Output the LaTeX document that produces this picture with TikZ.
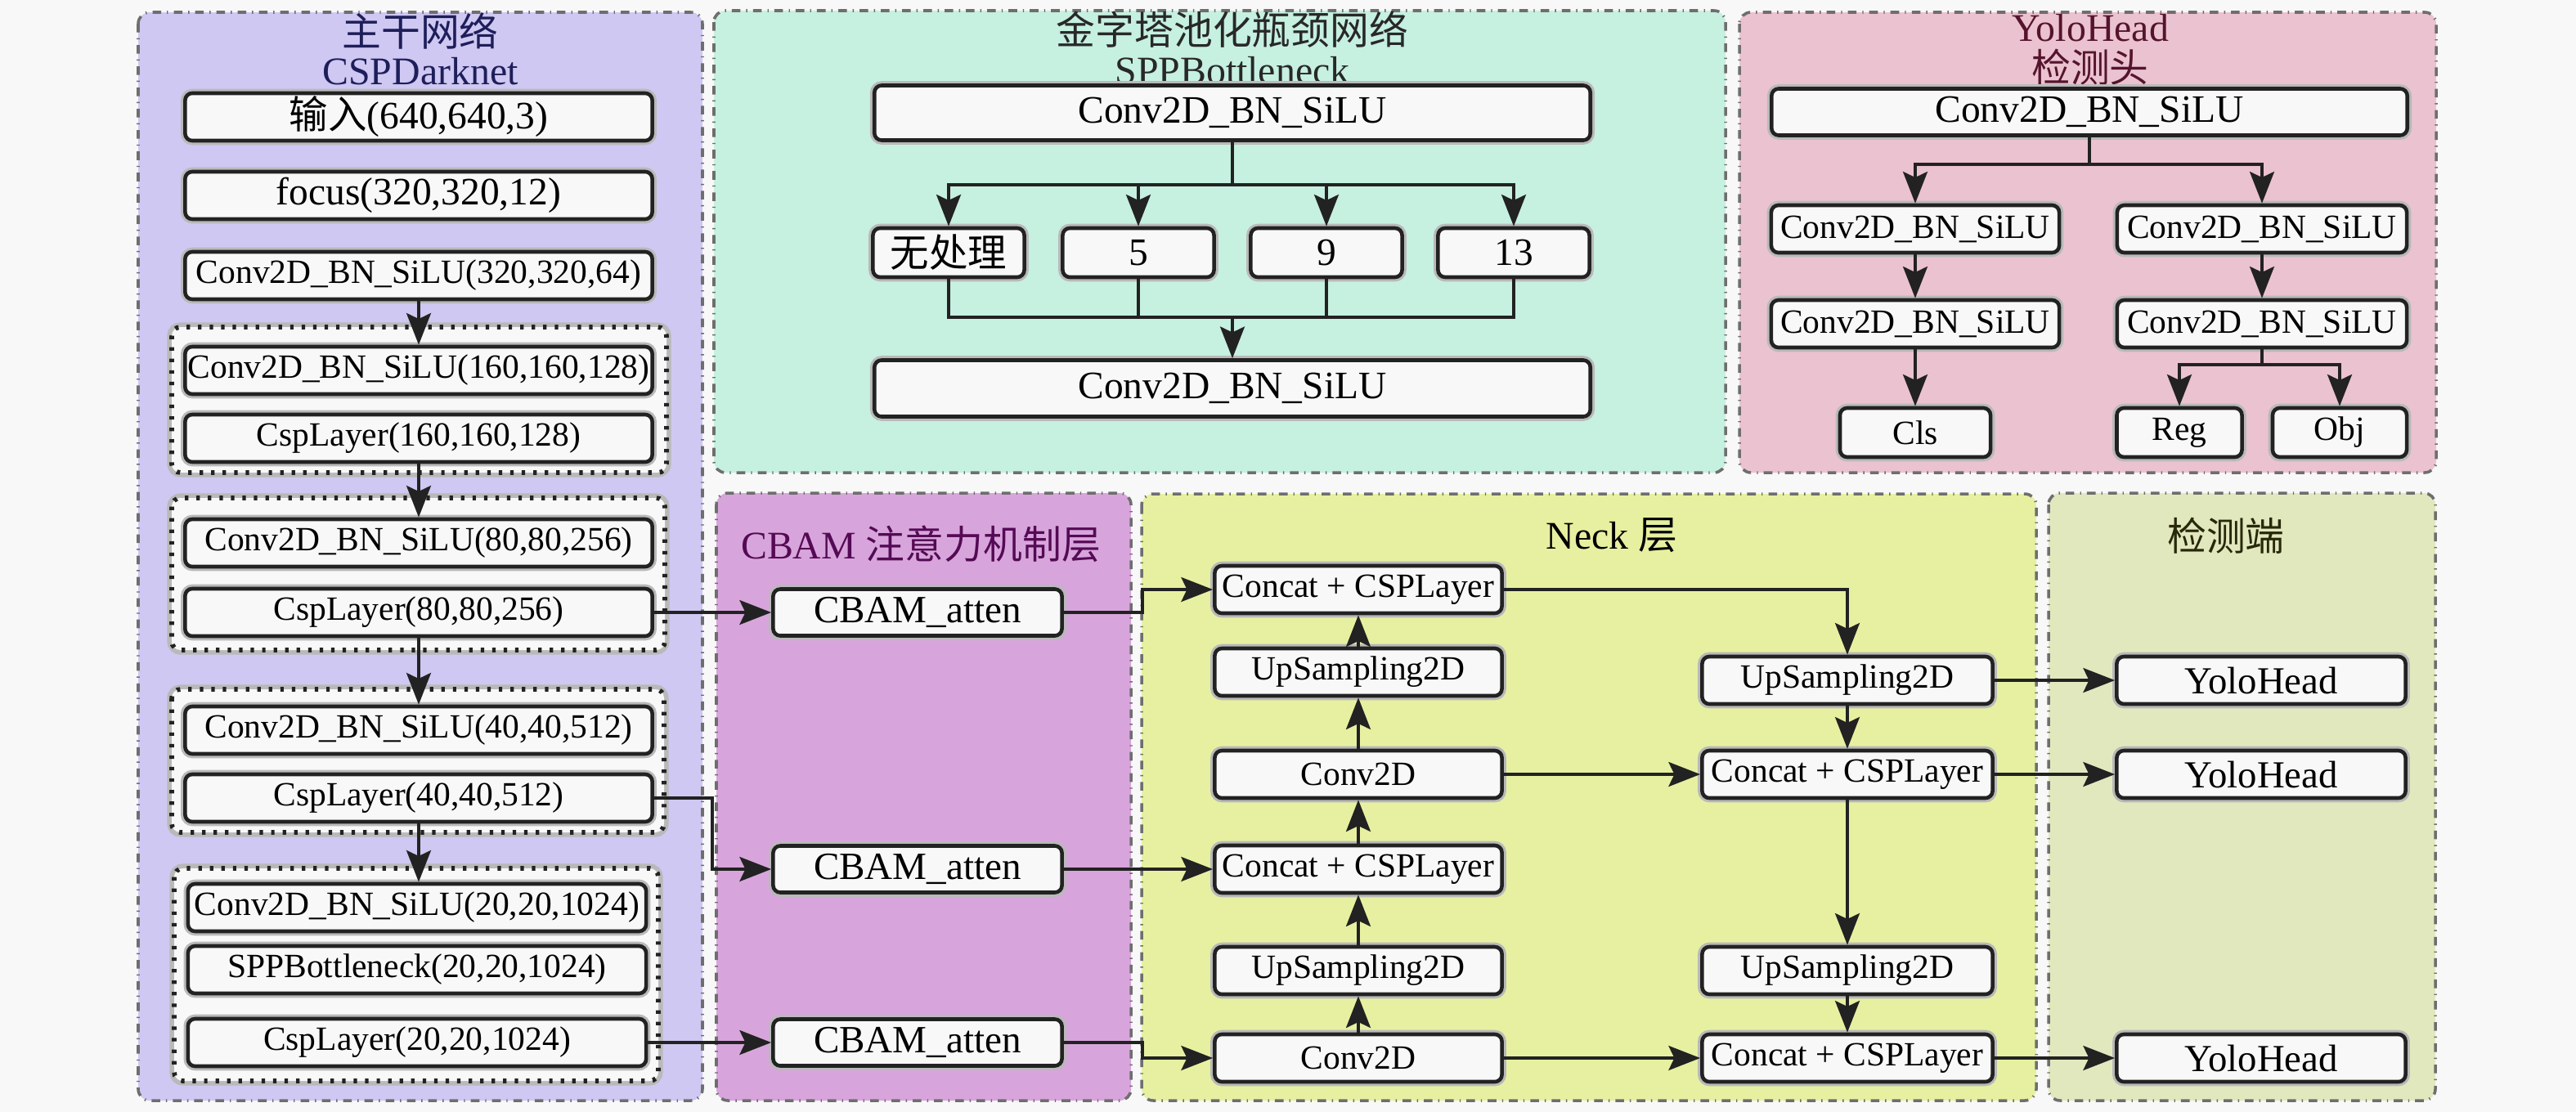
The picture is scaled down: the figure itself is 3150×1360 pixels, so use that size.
\documentclass[tikz,border=0pt]{standalone}
\usepackage{fontspec}
\setmainfont{Liberation Serif}
\newfontfamily\cjk{Noto Sans CJK SC}
\usetikzlibrary{arrows.meta}
\definecolor{bgc}{RGB}{248,248,248}
\definecolor{bbfill}{RGB}{206,200,242}
\definecolor{sppfill}{RGB}{198,240,224}
\definecolor{yhfill}{RGB}{235,194,207}
\definecolor{cbamfill}{RGB}{215,165,219}
\definecolor{neckfill}{RGB}{231,240,160}
\definecolor{detfill}{RGB}{226,232,190}
\definecolor{boxfill}{RGB}{248,248,248}
\definecolor{boxline}{RGB}{34,34,34}
\definecolor{halo}{RGB}{185,185,185}
\definecolor{panelline}{RGB}{110,110,110}
\definecolor{bbtitle}{RGB}{30,30,90}
\definecolor{spptitle}{RGB}{40,40,40}
\definecolor{yhtitle}{RGB}{85,20,45}
\definecolor{cbamtitle}{RGB}{85,10,85}
\definecolor{dettitle}{RGB}{40,40,10}
\tikzset{
  panel/.style={draw=panelline, dash dot, line width=1pt, rounded corners=4pt},
  grp/.style={draw=boxline, fill=boxfill, line width=1.6pt, dash pattern=on 1.2pt off 2.8pt, rounded corners=3pt,
    preaction={draw=halo, solid, line width=3.2pt}},
  box/.style={draw=boxline, fill=boxfill, line width=1.3pt, rounded corners=2.5pt, inner sep=0pt, minimum height=0.58cm,
    font=\fontsize{11.8}{12}\selectfont, preaction={draw=halo, line width=3pt}},
  bigbox/.style={box, font=\fontsize{13.5}{14}\selectfont},
  ttl/.style={inner sep=0pt, font=\fontsize{13.6}{15}\selectfont},
  conn/.style={draw=boxline, line width=1.1pt},
  arr/.style={conn, -{Stealth[length=11pt,width=8.5pt,inset=2pt]}}
}
\begin{document}
\begin{tikzpicture}[x=0.01cm,y=-0.01cm]
\useasboundingbox (0,0) rectangle (3150,1360);
\fill[bgc] (0,0) rectangle (3150,1360);
% panels
\filldraw[panel, fill=bbfill] (169,15) rectangle (859,1346);
\filldraw[panel, fill=sppfill] (873,13) rectangle (2110,578);
\filldraw[panel, fill=yhfill] (2127,15) rectangle (2979,578);
\filldraw[panel, fill=cbamfill] (876,603) rectangle (1383,1346);
\filldraw[panel, fill=neckfill] (1396,604) rectangle (2490,1346);
\filldraw[panel, fill=detfill] (2505,603) rectangle (2978,1346);
% titles
\node[ttl, text=bbtitle] (t1a) at (514,38) {\cjk 主干网络};
\node[ttl, text=bbtitle] (t1b) at (514,87) {CSPDarknet};
\node[ttl, text=spptitle] (t2a) at (1507,36) {\cjk 金字塔池化瓶颈网络};
\node[ttl, text=spptitle] (t2b) at (1507,86) {SPPBottleneck};
\node[ttl, text=yhtitle] (t3a) at (2556,34) {YoloHead};
\node[ttl, text=yhtitle] (t3b) at (2556,82) {\cjk 检测头};
\node[ttl, text=cbamtitle] (t4) at (1126,665) {CBAM {\cjk 注意力机制层}};
\node[ttl, text=black] (t5) at (1971,655) {Neck {\cjk 层}};
\node[ttl, text=dettitle] (t6) at (2722,655) {\cjk 检测端};
% backbone groups
\filldraw[grp] (210,400) rectangle (815,578);
\filldraw[grp] (210,609) rectangle (813,795);
\filldraw[grp] (210,843) rectangle (812,1018);
\filldraw[grp] (213,1062) rectangle (805,1322);
% backbone boxes
\node[bigbox, minimum width=5.71cm] (in) at (512,143) {{\cjk 输入}(640,640,3)};
\node[bigbox, minimum width=5.71cm] (focus) at (512,239) {focus(320,320,12)};
\node[box, minimum width=5.71cm] (c320) at (512,337) {Conv2D\_BN\_SiLU(320,320,64)};
\node[box, minimum width=5.71cm] (c160) at (512,453) {Conv2D\_BN\_SiLU(160,160,128)};
\node[box, minimum width=5.71cm] (csp160) at (512,536) {CspLayer(160,160,128)};
\node[box, minimum width=5.71cm] (c80) at (512,664) {Conv2D\_BN\_SiLU(80,80,256)};
\node[box, minimum width=5.71cm] (csp80) at (512,749) {CspLayer(80,80,256)};
\node[box, minimum width=5.71cm] (c40) at (512,893) {Conv2D\_BN\_SiLU(40,40,512)};
\node[box, minimum width=5.71cm] (csp40) at (512,976) {CspLayer(40,40,512)};
\node[box, minimum width=5.6cm] (c20) at (510,1110) {Conv2D\_BN\_SiLU(20,20,1024)};
\node[box, minimum width=5.6cm] (spp) at (510,1186) {SPPBottleneck(20,20,1024)};
\node[box, minimum width=5.6cm] (csp20) at (510,1275) {CspLayer(20,20,1024)};
% SPP panel
\node[bigbox, minimum width=8.75cm, minimum height=0.67cm] (sc1) at (1507,138) {Conv2D\_BN\_SiLU};
\node[bigbox, minimum width=1.85cm, minimum height=0.6cm] (n0) at (1160,309) {\cjk 无处理};
\node[bigbox, minimum width=1.85cm, minimum height=0.6cm] (n5) at (1392,309) {5};
\node[bigbox, minimum width=1.85cm, minimum height=0.6cm] (n9) at (1622,309) {9};
\node[bigbox, minimum width=1.85cm, minimum height=0.6cm] (n13) at (1851,309) {13};
\node[bigbox, minimum width=8.75cm, minimum height=0.69cm] (sc2) at (1507,475) {Conv2D\_BN\_SiLU};
\coordinate (sb) at (1507,226);
\coordinate (sm) at (1507,388);
\draw[conn] (sc1.south) -- (sb);
\draw[arr] (sb) -| (n0.north);
\draw[arr] (sb) -| (n5.north);
\draw[arr] (sb) -| (n9.north);
\draw[arr] (sb) -| (n13.north);
\draw[conn] (n0.south) |- (sm);
\draw[conn] (n5.south) |- (sm);
\draw[conn] (n9.south) |- (sm);
\draw[conn] (n13.south) |- (sm);
\draw[arr] (sm) -- (sc2.north);
% YoloHead panel
\node[bigbox, minimum width=7.77cm, minimum height=0.57cm] (yc0) at (2555,137) {Conv2D\_BN\_SiLU};
\node[box, minimum width=3.52cm] (yl1) at (2342,280) {Conv2D\_BN\_SiLU};
\node[box, minimum width=3.54cm] (yr1) at (2766,280) {Conv2D\_BN\_SiLU};
\node[box, minimum width=3.52cm] (yl2) at (2342,396) {Conv2D\_BN\_SiLU};
\node[box, minimum width=3.54cm] (yr2) at (2766,396) {Conv2D\_BN\_SiLU};
\node[box, minimum width=1.84cm, minimum height=0.6cm] (cls) at (2342,529) {Cls};
\node[box, minimum width=1.53cm, minimum height=0.6cm] (reg) at (2665,529) {Reg};
\node[box, minimum width=1.64cm, minimum height=0.6cm] (obj) at (2861,529) {Obj};
\coordinate (yb) at (2555,201);
\coordinate (yb2) at (2766,446);
\draw[conn] (yc0.south) -- (yb);
\draw[arr] (yb) -| (yl1.north);
\draw[arr] (yb) -| (yr1.north);
\draw[arr] (yl1) -- (yl2);
\draw[arr] (yr1) -- (yr2);
\draw[arr] (yl2) -- (cls);
\draw[conn] (yr2.south) -- (yb2);
\draw[arr] (yb2) -| (reg.north);
\draw[arr] (yb2) -| (obj.north);
% CBAM
\node[box, minimum width=3.53cm, minimum height=0.57cm, font=\fontsize{13.4}{14}\selectfont] (cb1) at (1122,749) {CBAM\_atten};
\node[box, minimum width=3.53cm, minimum height=0.57cm, font=\fontsize{13.4}{14}\selectfont] (cb2) at (1122,1063) {CBAM\_atten};
\node[box, minimum width=3.53cm, minimum height=0.57cm, font=\fontsize{13.4}{14}\selectfont] (cb3) at (1122,1275) {CBAM\_atten};
% Neck
\node[box, minimum width=3.51cm] (nc1) at (1661,721) {Concat + CSPLayer};
\node[box, minimum width=3.51cm] (nu1) at (1661,822) {UpSampling2D};
\node[box, minimum width=3.51cm] (nv1) at (1661,947) {Conv2D};
\node[box, minimum width=3.51cm] (nc2) at (1661,1063) {Concat + CSPLayer};
\node[box, minimum width=3.51cm] (nu2) at (1661,1187) {UpSampling2D};
\node[box, minimum width=3.51cm] (nv2) at (1661,1294) {Conv2D};
\node[box, minimum width=3.55cm] (ru1) at (2259,832) {UpSampling2D};
\node[box, minimum width=3.55cm] (rc1) at (2259,947) {Concat + CSPLayer};
\node[box, minimum width=3.55cm] (ru2) at (2259,1187) {UpSampling2D};
\node[box, minimum width=3.55cm] (rc2) at (2259,1294) {Concat + CSPLayer};
% detection
\node[box, minimum width=3.53cm, font=\fontsize{13.3}{14}\selectfont] (yh1) at (2765,832) {YoloHead};
\node[box, minimum width=3.53cm, font=\fontsize{13.3}{14}\selectfont] (yh2) at (2765,947) {YoloHead};
\node[box, minimum width=3.53cm, font=\fontsize{13.3}{14}\selectfont] (yh3) at (2765,1294) {YoloHead};
% backbone arrows
\draw[arr] (c320) -- (c160);
\draw[arr] (csp160) -- (c80);
\draw[arr] (csp80) -- (c40);
\draw[arr] (csp40.south) -- (csp40.south |- c20.north);
% backbone -> CBAM
\draw[arr] (csp80.east) -- (cb1.west);
\draw[arr] (csp40.east) -- ++(71,0) |- (cb2.west);
\draw[arr] (csp20.east) -- (cb3.west);
% CBAM -> neck
\draw[arr] (cb1.east) -- ++(96,0) |- (nc1.west);
\draw[arr] (cb2.east) -- (nc2.west);
\draw[arr] (cb3.east) -- ++(96,0) |- (nv2.west);
% neck internal
\draw[arr] (nv2) -- (nu2);
\draw[arr] (nu2) -- (nc2);
\draw[arr] (nc2) -- (nv1);
\draw[arr] (nv1) -- (nu1);
\draw[arr] (nu1) -- (nc1);
\draw[arr] (nc1.east) -| (ru1.north);
\draw[arr] (ru1) -- (rc1);
\draw[arr] (nv1) -- (rc1);
\draw[arr] (rc1) -- (ru2);
\draw[arr] (ru2) -- (rc2);
\draw[arr] (nv2) -- (rc2);
% neck -> detection
\draw[arr] (ru1) -- (yh1);
\draw[arr] (rc1) -- (yh2);
\draw[arr] (rc2) -- (yh3);
\end{tikzpicture}
\end{document}
